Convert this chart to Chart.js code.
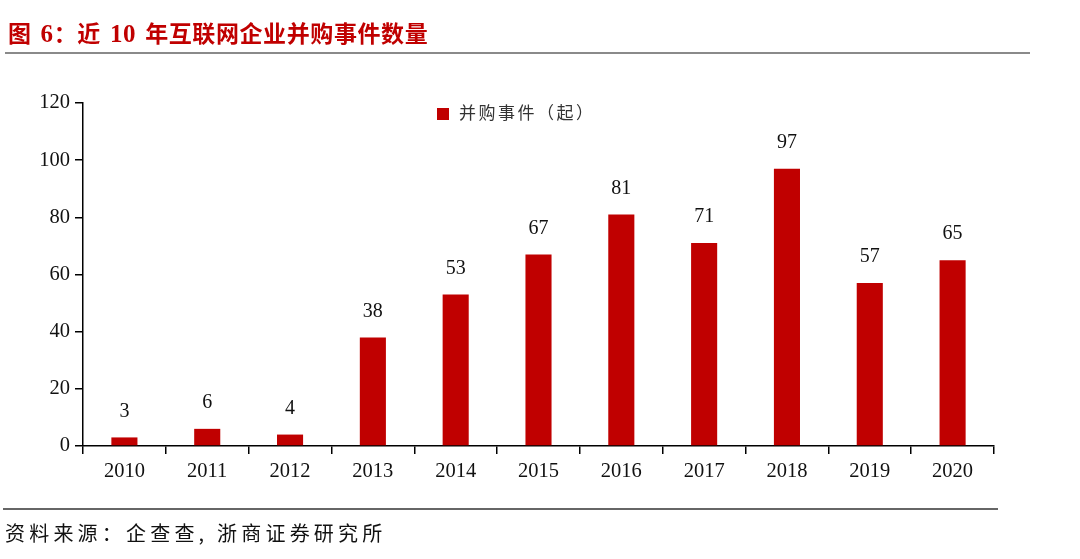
<!DOCTYPE html>
<html>
<head>
<meta charset="utf-8">
<script src="https://cdn.jsdelivr.net/npm/chart.js@4.4.0/dist/chart.umd.min.js"></script>
<style>
  html, body { margin:0; padding:0; background:#fff; width:1080px; height:559px; overflow:hidden; }
  #title { position:absolute; left:8px; top:15px; font-family:"Noto Sans CJK SC"; font-weight:bold; font-size:23px; color:#C00000; white-space:nowrap; letter-spacing:0.6px; }
  #title .num { font-family:"Liberation Serif"; font-weight:bold; font-size:25px; }
  #title .sp { display:inline-block; width:9px; }
  #tline { position:absolute; left:5px; top:52px; width:1025px; height:2px; background:#8a8a8a; }
  #fline { position:absolute; left:3px; top:508px; width:995px; height:2px; background:#666; }
  #foot { position:absolute; left:5px; top:518px; font-family:"Noto Sans CJK SC"; font-size:20px; color:#111; letter-spacing:4.2px; white-space:nowrap; }
  #legend { position:absolute; left:437px; top:99px; font-family:"Noto Sans CJK SC"; font-size:17px; color:#333; letter-spacing:2.5px; white-space:nowrap; }
  #legend .sw { display:inline-block; width:12px; height:12px; background:#C00000; margin-right:10px; vertical-align:-1px; }
  #wrap { position:absolute; left:0; top:0; width:1080px; height:559px; }
</style>
</head>
<body>
<div id="wrap"><canvas id="c" width="1080" height="559"></canvas></div>
<div id="title">图<span class="sp"></span><span class="num">6</span>：近<span class="sp"></span><span class="num">10</span><span class="sp"></span>年互联网企业并购事件数量</div>
<div id="tline"></div>
<div id="legend"><span class="sw"></span>并购事件（起）</div>
<div id="fline"></div>
<div id="foot">资料来源：企查查, 浙商证券研究所</div>
<script>
const categories = ["2010","2011","2012","2013","2014","2015","2016","2017","2018","2019","2020"];
const mergerCounts = [3, 6, 4, 38, 53, 67, 81, 71, 97, 57, 65];
const seriesName = "并购事件（起）";
const yTicks = [0, 20, 40, 60, 80, 100, 120];

const labelPlugin = {
  id: 'valueLabels',
  afterDatasetsDraw(chart) {
    const ctx = chart.ctx;
    const meta = chart.getDatasetMeta(0);
    ctx.save();
    ctx.font = '20px "Liberation Serif"';
    ctx.fillStyle = '#111';
    ctx.textAlign = 'center';
    ctx.textBaseline = 'bottom';
    meta.data.forEach((bar, i) => {
      ctx.fillText(String(chart.data.datasets[0].data[i]), bar.x, bar.y - 16);
    });
    ctx.restore();
  }
};

new Chart(document.getElementById('c'), {
  type: 'bar',
  data: {
    labels: categories,
    datasets: [{
      label: seriesName,
      data: mergerCounts,
      backgroundColor: '#C00000',
      borderWidth: 0,
      categoryPercentage: 1.0,
      barPercentage: 0.315
    }]
  },
  options: {
    responsive: false,
    animation: false,
    devicePixelRatio: 1,
    layout: { padding: { left: 0, right: 86, top: 103, bottom: 73 } },
    plugins: { legend: { display: false }, tooltip: { enabled: false } },
    scales: {
      x: {
        offset: true,
        grid: { offset: true, drawOnChartArea: false, drawTicks: true, tickLength: 8, color: '#000', lineWidth: 1.5 },
        border: { display: true, color: '#000', width: 1.5 },
        ticks: { color: '#111', font: { family: 'Liberation Serif', size: 20.5 }, padding: 5, maxRotation: 0 },
        afterFit(scale) { scale.height = 40; }
      },
      y: {
        min: 0, max: 120,
        afterBuildTicks(scale) { scale.ticks = yTicks.map(v => ({ value: v })); },
        grid: { drawOnChartArea: false, drawTicks: true, tickLength: 8, color: '#000', lineWidth: 1.5 },
        border: { display: true, color: '#000', width: 1.5 },
        ticks: { color: '#111', font: { family: 'Liberation Serif', size: 20.5 }, padding: 5 },
        afterFit(scale) { scale.width = 83; }
      }
    }
  },
  plugins: [labelPlugin]
});
</script>
</body>
</html>
